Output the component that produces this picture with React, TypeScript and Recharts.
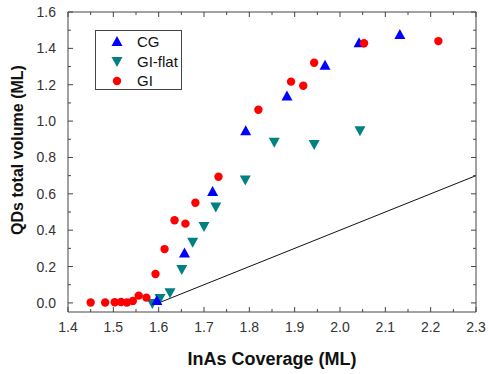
import { ScatterChart, Scatter, XAxis, YAxis, ReferenceLine, Legend } from "recharts";

// CG (blue triangles)
const CG_X = [1.596, 1.657, 1.719, 1.792, 1.883, 1.967, 2.042, 2.132];
const CG_Y = [0.01, 0.272, 0.61, 0.944, 1.135, 1.305, 1.428, 1.473];

// GI-flat (teal down triangles)
const GIFLAT_X = [1.586, 1.603, 1.625, 1.651, 1.675, 1.7, 1.726, 1.791, 1.855, 1.943, 2.044];
const GIFLAT_Y = [0.0, 0.027, 0.058, 0.186, 0.336, 0.423, 0.53, 0.679, 0.886, 0.874, 0.949];

// GI (red circles)
const GI_X = [1.45, 1.482, 1.503, 1.517, 1.53, 1.543, 1.556, 1.573, 1.593, 1.613, 1.635, 1.659, 1.681, 1.732, 1.82, 1.892, 1.919, 1.943, 2.053, 2.217];
const GI_Y = [0.002, 0.002, 0.004, 0.005, 0.002, 0.011, 0.04, 0.029, 0.159, 0.296, 0.455, 0.436, 0.551, 0.694, 1.062, 1.217, 1.194, 1.321, 1.428, 1.44];

// reference line (volume = coverage - 1.6)
const LINE_X = [1.6, 2.3];
const LINE_Y = [0, 0.7];

const X_MAJOR = [1.4, 1.5, 1.6, 1.7, 1.8, 1.9, 2.0, 2.1, 2.2, 2.3];
const X_MINOR = [1.45, 1.55, 1.65, 1.75, 1.85, 1.95, 2.05, 2.15, 2.25];
const Y_MAJOR = [0, 0.2, 0.4, 0.6, 0.8, 1.0, 1.2, 1.4, 1.6];
const Y_MINOR = [0.1, 0.3, 0.5, 0.7, 0.9, 1.1, 1.3, 1.5];

const LEGEND_ORDER = ["CG", "GI-flat", "GI"];

const FONT = '"Liberation Sans", Arial, sans-serif';
const FRAME = "#444";
const COLORS: Record<string, string> = { CG: "#0000ff", "GI-flat": "#008080", GI: "#ff0000" };

const toPoints = (xs: number[], ys: number[]) => xs.map((x, i) => ({ x, y: ys[i] }));
const cgData = toPoints(CG_X, CG_Y);
const giFlatData = toPoints(GIFLAT_X, GIFLAT_Y);
const giData = toPoints(GI_X, GI_Y);

const xTicks = [...X_MAJOR, ...X_MINOR].sort((a, b) => a - b);
const yTicks = [...Y_MAJOR, ...Y_MINOR].sort((a, b) => a - b);

const isIn = (list: number[], v: number) => list.some((t) => Math.abs(t - v) < 1e-6);

function marker(name: string, cx: number, cy: number) {
  const c = COLORS[name];
  if (name === "CG")
    return <polygon points={`${cx},${cy - 6} ${cx - 5.5},${cy + 4} ${cx + 5.5},${cy + 4}`} fill={c} />;
  if (name === "GI-flat")
    return <polygon points={`${cx - 5.5},${cy - 4} ${cx + 5.5},${cy - 4} ${cx},${cy + 6}`} fill={c} />;
  return <circle cx={cx} cy={cy} r={4.2} fill={c} />;
}

const shapeFor = (name: string) => (p: any) => marker(name, p.cx, p.cy);

function makeTick(side: "bottom" | "top" | "left" | "right", majors: number[], labels: boolean) {
  return (props: any) => {
    const { x, y, payload } = props;
    const major = isIn(majors, payload.value);
    const len = major ? 5 : 3;
    let l = { x1: x, y1: y, x2: x, y2: y };
    if (side === "bottom") l.y2 = y - len;
    if (side === "top") l.y2 = y + len;
    if (side === "left") l.x2 = x + len;
    if (side === "right") l.x2 = x - len;
    return (
      <g>
        <line {...l} stroke={FRAME} strokeWidth={1} />
        {labels && major && side === "bottom" && (
          <text x={x} y={y + 20} textAnchor="middle" fontSize={14} fill="#333" fontFamily={FONT}>
            {payload.value.toFixed(1)}
          </text>
        )}
        {labels && major && side === "left" && (
          <text x={x - 12} y={y + 5} textAnchor="end" fontSize={14} fill="#333" fontFamily={FONT}>
            {payload.value.toFixed(1)}
          </text>
        )}
      </g>
    );
  };
}

function YTitle(props: any) {
  const vb = props.viewBox || { x: 0, y: 12, width: 68, height: 301 };
  const x = vb.x + 23;
  const y = vb.y + vb.height / 2 - 12;
  return (
    <text x={x} y={y} transform={`rotate(-90 ${x} ${y})`} textAnchor="middle" fontSize={16} fontWeight="bold" fill="#111" fontFamily={FONT}>
      QDs total volume (ML)
    </text>
  );
}

function renderLegend(props: any) {
  const payload: any[] = props.payload || [];
  const entries = LEGEND_ORDER.map((n) => payload.find((e) => e.value === n)).filter(Boolean);
  return (
    <div
      style={{
        width: 87,
        height: 60,
        boxSizing: "border-box",
        border: `1px solid ${FRAME}`,
        background: "#fff",
        paddingTop: 1,
        fontFamily: FONT,
      }}
    >
      {entries.map((e: any) => (
        <div key={e.value} style={{ display: "flex", alignItems: "center", height: 19.5 }}>
          <svg width={14} height={14} style={{ marginLeft: 14 }}>
            {marker(e.value, 7, 7)}
          </svg>
          <span style={{ marginLeft: 13, fontSize: 15, color: "#111", lineHeight: "19.5px" }}>{e.value}</span>
        </div>
      ))}
    </div>
  );
}

export default function App() {
  return (
    <div style={{ position: "absolute", left: 0, top: 0, background: "#fff" }}>
      <ScatterChart width={488} height={374} margin={{ top: 11, right: 11, bottom: 0, left: 0 }}>
        <XAxis
          type="number"
          dataKey="x"
          domain={[1.4, 2.3]}
          allowDataOverflow
          ticks={xTicks}
          interval={0}
          tickSize={0}
          tickMargin={0}
          tickLine={false}
          axisLine={{ stroke: FRAME }}
          tick={makeTick("bottom", X_MAJOR, true)}
          height={62}
          label={{ value: "InAs Coverage (ML)", position: "insideBottom", offset: 9, fontSize: 18, fontWeight: "bold", fill: "#111", fontFamily: FONT }}
        />
        <XAxis
          xAxisId="top"
          orientation="top"
          type="number"
          dataKey="x"
          domain={[1.4, 2.3]}
          allowDataOverflow
          ticks={xTicks}
          interval={0}
          tickSize={0}
          tickMargin={0}
          tickLine={false}
          axisLine={{ stroke: FRAME }}
          tick={makeTick("top", X_MAJOR, false)}
          height={1}
        />
        <YAxis
          type="number"
          dataKey="y"
          domain={[-0.05, 1.6]}
          allowDataOverflow
          ticks={yTicks}
          interval={0}
          tickSize={0}
          tickMargin={0}
          tickLine={false}
          axisLine={{ stroke: FRAME }}
          tick={makeTick("left", Y_MAJOR, true)}
          width={68}
          label={<YTitle />}
        />
        <YAxis
          yAxisId="right"
          orientation="right"
          type="number"
          dataKey="y"
          domain={[-0.05, 1.6]}
          allowDataOverflow
          ticks={yTicks}
          interval={0}
          tickSize={0}
          tickMargin={0}
          tickLine={false}
          axisLine={{ stroke: FRAME }}
          tick={makeTick("right", Y_MAJOR, false)}
          width={1}
        />
        <ReferenceLine
          segment={[
            { x: LINE_X[0], y: LINE_Y[0] },
            { x: LINE_X[1], y: LINE_Y[1] },
          ]}
          stroke="#111"
          strokeWidth={1}
          ifOverflow="visible"
        />
        <Scatter name="GI-flat" data={giFlatData} fill={COLORS["GI-flat"]} shape={shapeFor("GI-flat")} isAnimationActive={false} />
        <Scatter name="CG" data={cgData} fill={COLORS.CG} shape={shapeFor("CG")} isAnimationActive={false} />
        <Scatter name="GI" data={giData} fill={COLORS.GI} shape={shapeFor("GI")} isAnimationActive={false} />
        <Legend
          layout="vertical"
          align="center"
          verticalAlign="middle"
          wrapperStyle={{ left: 95, top: 30, width: 87, height: 60 }}
          content={renderLegend}
        />
      </ScatterChart>
    </div>
  );
}
